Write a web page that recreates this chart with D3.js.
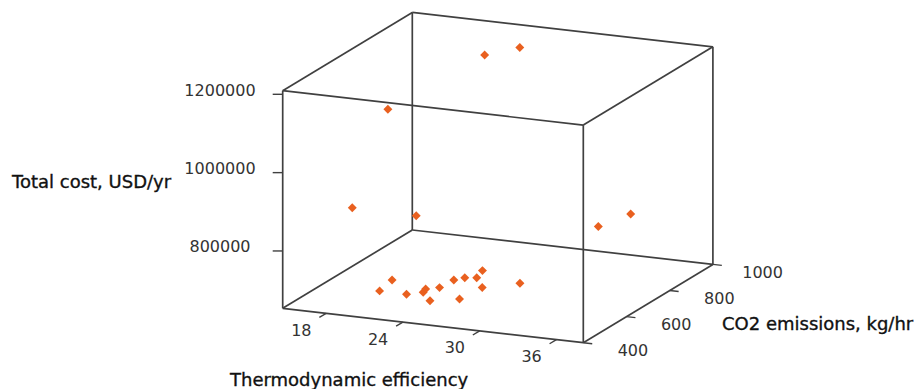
<!DOCTYPE html>
<html>
<head>
<meta charset="utf-8">
<script src="https://cdn.jsdelivr.net/npm/d3@7"></script>
<style>
  html, body { margin: 0; padding: 0; background: #fff; }
  #chart { width: 918px; height: 389px; }
  .tick-label { font-family: "DejaVu Sans", Verdana, sans-serif; font-size: 16px; fill: #333; }
  .axis-title { font-family: "DejaVu Sans", Verdana, sans-serif; font-size: 18px; fill: #111; stroke: #111; stroke-width: 0.35px; }
</style>
</head>
<body>
<div id="chart"></div>
<script>
// data (efficiency, CO2 kg/hr, total cost USD/yr)
const efficiency = [20.2, 19.2, 22.0, 23.0, 22.5, 25.0, 23.4, 23.3, 23.6, 26.5, 24.6, 23.9, 26.5, 28.3,
                    18.3, 22.1, 36.1, 37.5, 21.0, 23.6, 25.3];
const co2 = [517, 634, 535, 553, 594, 466, 605, 677, 710, 514, 706, 774, 619, 687,
             503, 574, 588, 655, 508, 802, 864];
const totalCost = [680000, 665000, 672000, 675000, 668000, 690000, 671000, 666000, 662000, 684000, 667000, 660000, 678000, 673000,
                   890000, 860000, 880000, 895000, 1150000, 1200000, 1205000];

const effTicks = [18, 24, 30, 36];
const co2Ticks = [400, 600, 800, 1000];
const costTicks = [800000, 1000000, 1200000];

const effDomain = [14.6, 38.1];
const co2Domain = [400, 1000];
const costDomain = [653600, 1209200];

const width = 918, height = 389;
// screen basis of the box: origin corner and one vector per axis
const origin = [282.7, 308.3];
const vx = [300.6, 34.4];
const vy = [129.6, -78.3];
const vz = [0, -217.6];

const xScale = d3.scaleLinear().domain(effDomain).range([0, 1]);
const yScale = d3.scaleLinear().domain(co2Domain).range([0, 1]);
const zScale = d3.scaleLinear().domain(costDomain).range([0, 1]);

function project(e, c, z) {
  const a = xScale(e), b = yScale(c), h = zScale(z);
  return [origin[0] + a * vx[0] + b * vy[0] + h * vz[0],
          origin[1] + a * vx[1] + b * vy[1] + h * vz[1]];
}

const svg = d3.select('#chart').append('svg')
  .attr('width', width)
  .attr('height', height);

// box frame
const E = effDomain, C = co2Domain, Z = costDomain;
const edges = [];
for (const c of C) for (const z of Z) edges.push([[E[0], c, z], [E[1], c, z]]);
for (const e of E) for (const z of Z) edges.push([[e, C[0], z], [e, C[1], z]]);
for (const e of E) for (const c of C) edges.push([[e, c, Z[0]], [e, c, Z[1]]]);

svg.append('g')
  .attr('class', 'frame')
  .selectAll('line')
  .data(edges)
  .enter().append('line')
  .attr('x1', (d) => project(...d[0])[0])
  .attr('y1', (d) => project(...d[0])[1])
  .attr('x2', (d) => project(...d[1])[0])
  .attr('y2', (d) => project(...d[1])[1])
  .attr('stroke', '#404040')
  .attr('stroke-width', 1.7);

const len = (v) => Math.hypot(v[0], v[1]);
const ux = [vx[0] / len(vx), vx[1] / len(vx)];
const uy = [vy[0] / len(vy), vy[1] / len(vy)];

// efficiency axis (front bottom edge)
const effAxis = svg.append('g').attr('class', 'axis axis-x');
effTicks.forEach((t) => {
  const p = project(t, C[0], Z[0]);
  effAxis.append('line')
    .attr('x1', p[0]).attr('y1', p[1])
    .attr('x2', p[0] - uy[0] * 8).attr('y2', p[1] - uy[1] * 8)
    .attr('stroke', '#404040').attr('stroke-width', 1.4);
  effAxis.append('text')
    .attr('class', 'tick-label')
    .attr('x', p[0] - uy[0] * 29)
    .attr('y', p[1] - uy[1] * 29 + 2)
    .attr('text-anchor', 'middle')
    .attr('dominant-baseline', 'central')
    .text(t);
});

// CO2 axis (right bottom edge)
const co2Axis = svg.append('g').attr('class', 'axis axis-y');
co2Ticks.forEach((t) => {
  const p = project(E[1], t, Z[0]);
  co2Axis.append('line')
    .attr('x1', p[0]).attr('y1', p[1])
    .attr('x2', p[0] + ux[0] * 9).attr('y2', p[1] + ux[1] * 9)
    .attr('stroke', '#404040').attr('stroke-width', 1.4);
  co2Axis.append('text')
    .attr('class', 'tick-label')
    .attr('x', p[0] + ux[0] * 50)
    .attr('y', p[1] + ux[1] * 50 + 2)
    .attr('text-anchor', 'middle')
    .attr('dominant-baseline', 'central')
    .text(t);
});

// cost axis (front left vertical edge)
const costAxis = svg.append('g').attr('class', 'axis axis-z');
costTicks.forEach((t) => {
  const p = project(E[0], C[0], t);
  costAxis.append('line')
    .attr('x1', p[0]).attr('y1', p[1])
    .attr('x2', p[0] - 10).attr('y2', p[1])
    .attr('stroke', '#404040').attr('stroke-width', 1.4);
  costAxis.append('text')
    .attr('class', 'tick-label')
    .attr('x', 220)
    .attr('y', p[1] - 4)
    .attr('text-anchor', 'middle')
    .attr('dominant-baseline', 'central')
    .text(t);
});

// titles
svg.append('text').attr('class', 'axis-title')
  .attr('x', 12).attr('y', 188)
  .text('Total cost, USD/yr');
svg.append('text').attr('class', 'axis-title')
  .attr('x', 230).attr('y', 386)
  .text('Thermodynamic efficiency');
svg.append('text').attr('class', 'axis-title')
  .attr('x', 722).attr('y', 330)
  .text('CO2 emissions, kg/hr');

// points
const points = efficiency.map((e, i) => ({ e, c: co2[i], z: totalCost[i] }));
const diamond = d3.symbol().type(d3.symbolSquare).size(40);

svg.append('g')
  .attr('class', 'points')
  .selectAll('path')
  .data(points)
  .enter().append('path')
  .attr('d', diamond)
  .attr('transform', (d) => {
    const p = project(d.e, d.c, d.z);
    return `translate(${p[0]},${p[1]}) rotate(45)`;
  })
  .attr('fill', '#e9601f');
</script>
</body>
</html>
